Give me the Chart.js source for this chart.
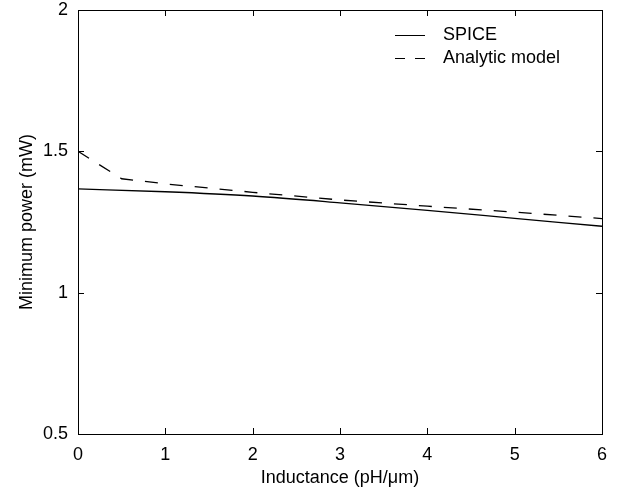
<!DOCTYPE html>
<html>
<head>
<meta charset="utf-8">
<script src="https://cdn.jsdelivr.net/npm/chart.js@4"></script>
<style>
  html, body { margin: 0; padding: 0; background: #fff; }
  #wrap { width: 631px; height: 495px; }
</style>
</head>
<body>
<div id="wrap"><canvas id="chart" width="631" height="495"></canvas></div>
<script>
// Data
const inductance = [0, 1, 2, 3, 4, 5, 6];
const spicePower = [1.367, 1.357, 1.342, 1.318, 1.291, 1.263, 1.235];

const modelInductance = [0, 0.5, 1, 2, 3, 4, 5, 6];
const modelPower = [1.50, 1.403, 1.385, 1.355, 1.328, 1.306, 1.285, 1.262];

const xTicks = [0, 1, 2, 3, 4, 5, 6];
const yTicks = [0.5, 1, 1.5, 2];

const FONT = 'Liberation Sans, Arial, Helvetica, sans-serif';

// MATLAB style box with inward ticks plus legend in the top right corner
const boxPlugin = {
    id: 'box',
    afterDraw(chart) {
        const { ctx, chartArea: a, scales } = chart;
        ctx.save();
        ctx.strokeStyle = '#000';
        ctx.lineWidth = 1;
        ctx.strokeRect(a.left + 0.5, a.top + 0.5, a.right - a.left, a.bottom - a.top);

        const len = 6;
        ctx.beginPath();
        xTicks.forEach(v => {
            const x = Math.round(scales.x.getPixelForValue(v)) + 0.5;
            ctx.moveTo(x, a.bottom); ctx.lineTo(x, a.bottom - len);
            ctx.moveTo(x, a.top); ctx.lineTo(x, a.top + len);
        });
        yTicks.forEach(v => {
            const y = Math.round(scales.y.getPixelForValue(v)) + 0.5;
            ctx.moveTo(a.left, y); ctx.lineTo(a.left + len, y);
            ctx.moveTo(a.right, y); ctx.lineTo(a.right - len, y);
        });
        ctx.stroke();

        // legend
        const lx = 395, tx = 443;
        const rows = [
            { label: 'SPICE', dash: [], y: 35 },
            { label: 'Analytic model', dash: [10, 10], y: 58 }
        ];
        ctx.font = '18px ' + FONT;
        ctx.textBaseline = 'middle';
        ctx.fillStyle = '#000';
        rows.forEach(r => {
            ctx.beginPath();
            ctx.setLineDash(r.dash);
            ctx.moveTo(lx, r.y + 0.5);
            ctx.lineTo(lx + 30, r.y + 0.5);
            ctx.stroke();
            ctx.setLineDash([]);
            ctx.fillText(r.label, tx, r.y);
        });
        ctx.restore();
    }
};

new Chart(document.getElementById('chart'), {
    type: 'line',
    data: {
        datasets: [{
            label: 'SPICE',
            data: inductance.map((x, i) => ({ x: x, y: spicePower[i] })),
            borderColor: '#000',
            borderWidth: 1.3,
            pointRadius: 0,
            cubicInterpolationMode: 'monotone',
            fill: false
        }, {
            label: 'Analytic model',
            data: modelInductance.map((x, i) => ({ x: x, y: modelPower[i] })),
            borderColor: '#000',
            borderWidth: 1.3,
            borderDash: [13, 12],
            pointRadius: 0,
            tension: 0,
            fill: false
        }]
    },
    options: {
        responsive: false,
        animation: false,
        layout: { padding: { top: 10, right: 29, left: 0, bottom: 0 } },
        plugins: {
            legend: { display: false },
            tooltip: { enabled: false }
        },
        scales: {
            x: {
                type: 'linear',
                min: 0,
                max: 6,
                border: { display: false },
                grid: { display: false, drawTicks: false },
                afterBuildTicks: s => { s.ticks = xTicks.map(v => ({ value: v })); },
                afterFit: s => { s.height = 61; s.paddingRight = 0; s.paddingLeft = 0; },
                ticks: {
                    color: '#000',
                    padding: 10,
                    maxRotation: 0,
                    font: { family: FONT, size: 18 }
                },
                title: {
                    display: true,
                    text: 'Inductance (pH/\u03bcm)',
                    color: '#000',
                    padding: { top: 2, bottom: 6 },
                    font: { family: FONT, size: 18 }
                }
            },
            y: {
                min: 0.5,
                max: 2,
                border: { display: false },
                grid: { display: false, drawTicks: false },
                afterBuildTicks: s => { s.ticks = yTicks.map(v => ({ value: v })); },
                afterFit: s => { s.width = 78; s.paddingTop = 0; s.paddingBottom = 0; },
                ticks: {
                    color: '#000',
                    padding: 10,
                    font: { family: FONT, size: 18 },
                    callback: v => String(v)
                },
                title: {
                    display: true,
                    text: 'Minimum power (mW)',
                    color: '#000',
                    padding: { top: 16, bottom: 0 },
                    font: { family: FONT, size: 18 }
                }
            }
        }
    },
    plugins: [boxPlugin]
});
</script>
</body>
</html>
